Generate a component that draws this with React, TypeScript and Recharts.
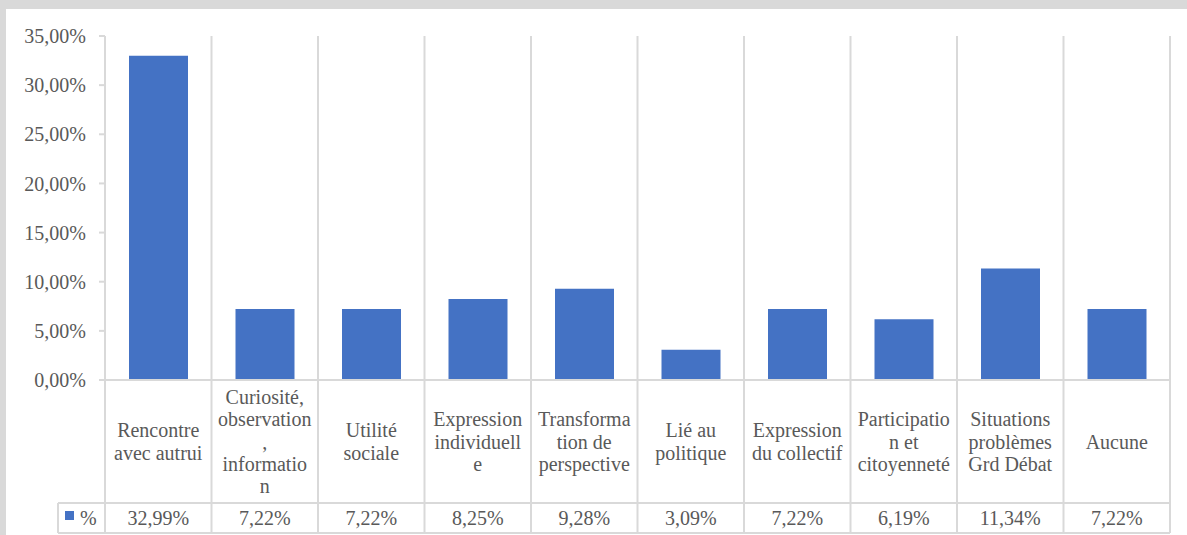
import React from "react";
import { BarChart, Bar, XAxis, YAxis } from "recharts";

const categories = [
  "Rencontre avec autrui",
  "Curiosité, observation, information",
  "Utilité sociale",
  "Expression individuelle",
  "Transformation de perspective",
  "Lié au politique",
  "Expression du collectif",
  "Participation et citoyenneté",
  "Situations problèmes Grd Débat",
  "Aucune",
];
const categoryLines = [
  ["Rencontre", "avec autrui"],
  ["Curiosité,", "observation", ",", "informatio", "n"],
  ["Utilité", "sociale"],
  ["Expression", "individuell", "e"],
  ["Transforma", "tion de", "perspective"],
  ["Lié au", "politique"],
  ["Expression", "du collectif"],
  ["Participatio", "n et", "citoyenneté"],
  ["Situations", "problèmes", "Grd Débat"],
  ["Aucune"],
];
const percentValues = [32.99, 7.22, 7.22, 8.25, 9.28, 3.09, 7.22, 6.19, 11.34, 7.22];
const yTicks = [0, 5, 10, 15, 20, 25, 30, 35];
const seriesName = "%";

const data = categories.map((c, i) => ({ name: c, value: percentValues[i] }));

const W = 1187;
const H = 535;
const PLOT_LEFT = 105;
const PLOT_RIGHT = 1170;
const PLOT_TOP = 36;
const PLOT_BOTTOM = 380;
const TABLE_MID = 503;
const TABLE_BOTTOM = 533;
const LEGEND_LEFT = 58;
const BAND = (PLOT_RIGHT - PLOT_LEFT) / categories.length;
const GRID = "#d9d9d9";
const TEXT = "#595959";
const BLUE = "#4472C4";
const FONT = "'Liberation Serif', 'Times New Roman', serif";
const FS = 20;
const LINE_H = 22.4;

const fmt = (v: number) => v.toFixed(2).replace(".", ",") + "%";

const CategoryTick = (props: any) => {
  const { x, index } = props;
  const lines = categoryLines[index] || [];
  const mid = (PLOT_BOTTOM + TABLE_MID) / 2;
  const left = x - BAND / 2;
  const right = x + BAND / 2;
  return (
    <g>
      <line x1={left} x2={left} y1={PLOT_TOP} y2={TABLE_BOTTOM} stroke={GRID} strokeWidth={2} />
      {index === categories.length - 1 && (
        <line x1={right} x2={right} y1={PLOT_TOP} y2={TABLE_BOTTOM} stroke={GRID} strokeWidth={2} />
      )}
      {index === 0 && (
        <g>
          <line x1={LEGEND_LEFT} x2={PLOT_RIGHT} y1={TABLE_MID} y2={TABLE_MID} stroke={GRID} strokeWidth={2} />
          <line x1={LEGEND_LEFT} x2={PLOT_RIGHT} y1={TABLE_BOTTOM} y2={TABLE_BOTTOM} stroke={GRID} strokeWidth={2} />
          <line x1={LEGEND_LEFT} x2={LEGEND_LEFT} y1={TABLE_MID} y2={TABLE_BOTTOM} stroke={GRID} strokeWidth={2} />
          <rect x={65} y={511} width={9} height={9} fill={BLUE} />
          <text x={80} y={525} fill={TEXT} fontSize={FS} fontFamily={FONT}>
            {seriesName}
          </text>
        </g>
      )}
      {lines.map((ln, i) => (
        <text
          key={i}
          x={x}
          y={mid + (i - (lines.length - 1) / 2) * LINE_H}
          textAnchor="middle"
          dominantBaseline="central"
          fill={TEXT}
          fontSize={FS}
          fontFamily={FONT}
        >
          {ln}
        </text>
      ))}
      <text x={x} y={525} textAnchor="middle" fill={TEXT} fontSize={FS} fontFamily={FONT}>
        {fmt(percentValues[index])}
      </text>
    </g>
  );
};

export default function App() {
  return (
    <div style={{ position: "absolute", left: 0, top: 0, width: W, height: H, background: "#d9d9d9" }}>
      <div style={{ position: "absolute", left: 6, top: 9, right: 0, bottom: 0, background: "#ffffff" }} />
      <div style={{ position: "absolute", left: 0, top: 0 }}>
        <BarChart
          width={W}
          height={H}
          data={data}
          margin={{ top: PLOT_TOP, right: W - PLOT_RIGHT, bottom: H - TABLE_BOTTOM, left: 0 }}
        >
          <XAxis
            dataKey="name"
            interval={0}
            tick={<CategoryTick />}
            tickLine={false}
            axisLine={{ stroke: GRID, strokeWidth: 2 }}
            height={TABLE_BOTTOM - PLOT_BOTTOM}
          />
          <YAxis
            width={PLOT_LEFT}
            domain={[0, 35]}
            ticks={yTicks}
            tickFormatter={fmt}
            axisLine={false}
            tickLine={{ stroke: GRID, strokeWidth: 2 }}
            tickSize={6}
            tickMargin={13}
            tick={{ fill: TEXT, fontSize: FS, fontFamily: FONT }}
          />
          <Bar dataKey="value" fill={BLUE} barSize={59} isAnimationActive={false} />
        </BarChart>
      </div>
    </div>
  );
}
